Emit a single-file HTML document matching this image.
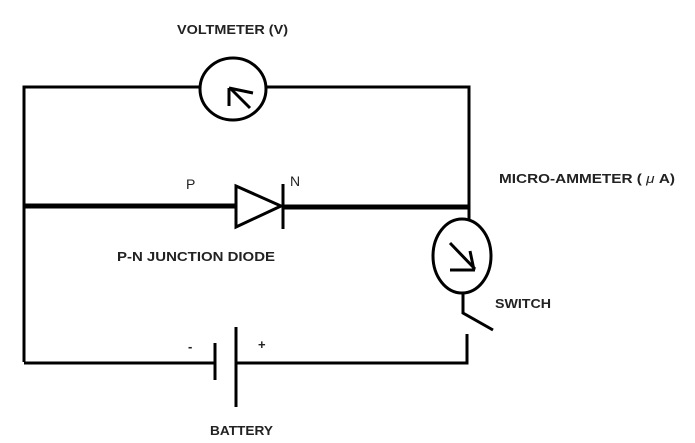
<!DOCTYPE html>
<html><head><meta charset="utf-8"><style>
html,body{margin:0;padding:0;background:#fff;}
svg{display:block}
text{font-family:"Liberation Sans",sans-serif;font-size:13px;font-weight:bold;fill:#222}
</style></head><body>
<svg width="695" height="443" viewBox="0 0 695 443" xmlns="http://www.w3.org/2000/svg">
<g stroke="#000" fill="none" stroke-width="3">
<polyline points="24,362 24,87 201,87"/>
<polyline points="266,87 469,87 469,220"/>
<ellipse cx="233" cy="89" rx="33" ry="31"/>
<line x1="250" y1="108" x2="231" y2="89"/>
<line x1="229" y1="88" x2="229" y2="106"/>
<line x1="229" y1="88" x2="253" y2="93"/>
<line x1="24" y1="206" x2="236" y2="206" stroke-width="5"/>
<polygon points="236,186 281,206 236,227"/>
<line x1="283" y1="184" x2="283" y2="229"/>
<line x1="283" y1="207" x2="469" y2="207" stroke-width="5"/>
<ellipse cx="462" cy="256" rx="29" ry="37"/>
<line x1="450" y1="243" x2="475" y2="269"/>
<line x1="470" y1="251" x2="474" y2="270"/>
<line x1="450" y1="270" x2="475" y2="270"/>
<polyline points="463,294 463,313 493,330"/>
<polyline points="467,334 467,363 236,363"/>
<line x1="24" y1="363" x2="215" y2="363"/>
<line x1="215" y1="343" x2="215" y2="380"/>
<line x1="236" y1="327" x2="236" y2="407"/>
</g>
<text x="177" y="34" textLength="111" lengthAdjust="spacingAndGlyphs">VOLTMETER (V)</text>
<text x="186" y="189" style="font-weight:normal;font-size:14px">P</text>
<text x="290" y="186" style="font-weight:normal;font-size:14px">N</text>
<text x="499" y="183" textLength="176" lengthAdjust="spacingAndGlyphs">MICRO-AMMETER ( <tspan style="font-style:italic;font-weight:normal">μ</tspan> A)</text>
<text x="117" y="261" textLength="158" lengthAdjust="spacingAndGlyphs">P-N JUNCTION DIODE</text>
<text x="495" y="308" textLength="56" lengthAdjust="spacingAndGlyphs">SWITCH</text>
<text x="188" y="351">-</text>
<text x="258" y="349">+</text>
<text x="210" y="435" textLength="63" lengthAdjust="spacingAndGlyphs">BATTERY</text>
</svg>
</body></html>
